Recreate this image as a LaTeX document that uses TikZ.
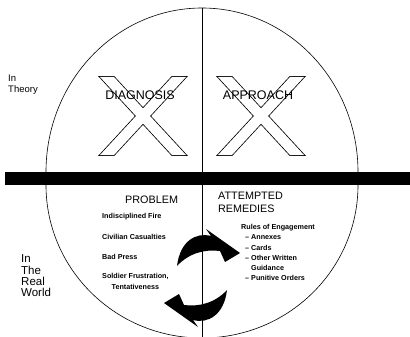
\documentclass[tikz,border=0pt]{standalone}
\usepackage{fontspec}
\setmainfont{Liberation Sans}
\usetikzlibrary{positioning}

\begin{document}
\begin{tikzpicture}[
  x=1pt, y=-1pt,
  every node/.style={inner sep=0pt},
  side/.style={font=\fontsize{11.5}{11.3}\selectfont, align=left, anchor=north west},
  xtitle/.style={font=\fontsize{12.5}{14}\selectfont},
  head/.style={font=\fontsize{10.8}{13}\selectfont, anchor=base west},
  item/.style={font=\fontsize{7.2}{9}\selectfont\bfseries,
    text height=5.3pt, text depth=1.5pt, anchor=north west},
  xarm/.style={line width=1.6pt},
  rim/.style={line width=0.6pt}
]
  \useasboundingbox (0,0) rectangle (410,337);

  % the two halves of the circle
  \begin{scope}
    \clip (0,0) rectangle (410,172);
    \draw[rim] (202,172) ellipse [x radius=156, y radius=164];
  \end{scope}
  \begin{scope}
    \clip (0,185) rectangle (410,337);
    \draw[rim] (202,185) ellipse [x radius=156, y radius=153];
  \end{scope}
  \draw[rim] (202,8) -- (202,337);
  \fill (5,172) rectangle (410,185);

  % crossed out boxes
  \foreach \cx in {143,261} {
    \draw[xarm] (\cx-43,77) -- (\cx-29,77) -- (\cx+43,155) -- (\cx+29,155) -- cycle;
    \draw[xarm] (\cx+29,77) -- (\cx+43,77) -- (\cx-29,155) -- (\cx-43,155) -- cycle;
    \fill[white] (\cx-43,77) -- (\cx-29,77) -- (\cx+43,155) -- (\cx+29,155) -- cycle;
    \fill[white] (\cx+29,77) -- (\cx+43,77) -- (\cx-29,155) -- (\cx-43,155) -- cycle;
  }

  % cycle arrows
  \foreach \r in {0,180}
    \fill[shift={(202,278)}, rotate=\r] (-25,-12)
      .. controls (-22,-37) and (-6,-46) .. (9,-42)
      -- (4,-49) -- (38,-25) -- (23,-16) -- (18,-27)
      .. controls (3,-29) and (-13,-25) .. (-25,-12) -- cycle;

  \node[side, font=\fontsize{9.5}{11}\selectfont] (theory) at (8,75) {In\\Theory};
  \node[side] (world) at (21,254.8) {In\\The\\Real\\World};

  \node[xtitle] (diag) at (140,95) {DIAGNOSIS};
  \node[xtitle] (appr) at (258,95) {APPROACH};

  \node[head] (problem) at (125,203) {PROBLEM};
  \node[head] (attempted) at (218,199) {ATTEMPTED};
  \node[head] (remedies) at (218,212) {REMEDIES};

  \node[item] (p1) at (102,213.2) {Indisciplined Fire};
  \node[item] (p2) [below right=13.2pt and 0pt of p1.south west] {Civilian Casualties};
  \node[item] (p3) [below right=13.2pt and 0pt of p2.south west] {Bad Press};
  \node[item] (p4) [below right=12.2pt and 0pt of p3.south west] {Soldier Frustration,};
  \node[item, anchor=north] (p5) [below=3.2pt of p4] {Tentativeness};

  \node[item] (rules) at (241,224.2) {Rules of Engagement};
  \node[item] (r1) [below right=3pt and 4pt of rules.south west] {– Annexes};
  \node[item] (r2) [below right=3pt and 0pt of r1.south west] {– Cards};
  \node[item] (r3) [below right=3pt and 0pt of r2.south west] {– Other Written};
  \node[item] (r4) [below right=3pt and 0pt of r3.south west] {\phantom{– }Guidance};
  \node[item] (r5) [below right=3pt and 0pt of r4.south west] {– Punitive Orders};
\end{tikzpicture}
\end{document}
